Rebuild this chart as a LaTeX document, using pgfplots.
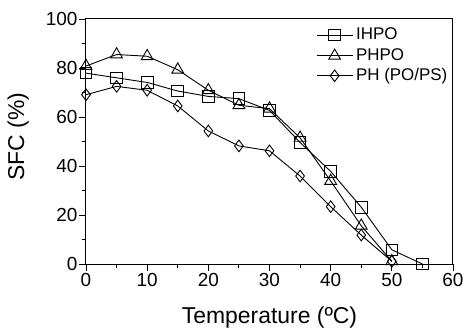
\documentclass[border=0pt]{standalone}
\usepackage{pgfplots}
\pgfplotsset{compat=1.18}
\usepackage{fontspec}
\setmainfont{Liberation Sans}
\begin{document}
\begin{tikzpicture}
\begin{axis}[
  at={(0,0)}, anchor=origin,
  scale only axis, width=367bp, height=245bp,
  xmin=0, xmax=60, ymin=0, ymax=100,
  xtick={0,10,...,60}, ytick={0,20,...,100},
  minor xtick={5,15,...,55}, minor ytick={10,30,...,90},
  xtick pos=bottom, ytick pos=left,
  tick align=outside, major tick length=7bp, minor tick length=4bp,
  every tick/.style={black, line width=0.9bp},
  axis line style={line width=1bp},
  /pgf/number format/assume math mode=true,
  tick label style={font=\fontsize{19}{21}\selectfont},
  xticklabel style={yshift=1bp},
  yticklabel style={xshift=2bp},
  every axis y label/.style={at={(axis description cs:-0.185,0.52)}, rotate=90, anchor=center, font=\fontsize{23}{25}\selectfont},
  every axis x label/.style={at={(axis description cs:0.5,-0.22)}, anchor=center, font=\fontsize{23}{25}\selectfont},
  xlabel={Temperature (ºC)}, ylabel={SFC (\%)},
  legend style={draw=none, fill=none, at={(axis cs:37.6,96)}, anchor=north west, font=\fontsize{17}{18}\selectfont, row sep=8bp, column sep=3bp, inner sep=0pt, nodes={inner sep=0pt, text height=11bp, text depth=1bp}},
  legend cell align=left,
  legend image code/.code={\draw[#1] (0bp,0bp) -- (36bp,0bp); \draw[#1, only marks] plot coordinates {(18bp,0bp)};},
  every axis plot/.append style={black, line width=0.9bp, mark options={solid, fill=white, line width=0.9bp}},
  clip=false,
]
\addplot[mark=square, mark size=5.8bp] coordinates {
(0,77.9) (5,76) (10,74.1) (15,70.6) (20,68.4) (25,67.5) (30,62.7) (35,49.6) (40,37.8) (45,23.2) (50,5.8) (55,0)};
\addlegendentry{IHPO}
\addplot[mark=triangle, mark size=6.8bp] coordinates {
(0,80.8) (5,85.5) (10,84.8) (15,79.3) (20,70.9) (25,64.8) (30,63.4) (35,51.5) (40,33.9) (45,15.6) (50,1.1)};
\addlegendentry{PHPO}
\addplot[mark=diamond, mark size=5.8bp] coordinates {
(0,69.1) (5,72.5) (10,70.9) (15,64.5) (20,54.3) (25,48.2) (30,46.2) (35,35.9) (40,23.4) (45,11.8) (50,1.1)};
\addlegendentry{PH (PO/PS)}
\end{axis}
\pgfresetboundingbox
\path (-86bp,-67bp) rectangle (378bp,264bp);
\end{tikzpicture}
\end{document}
